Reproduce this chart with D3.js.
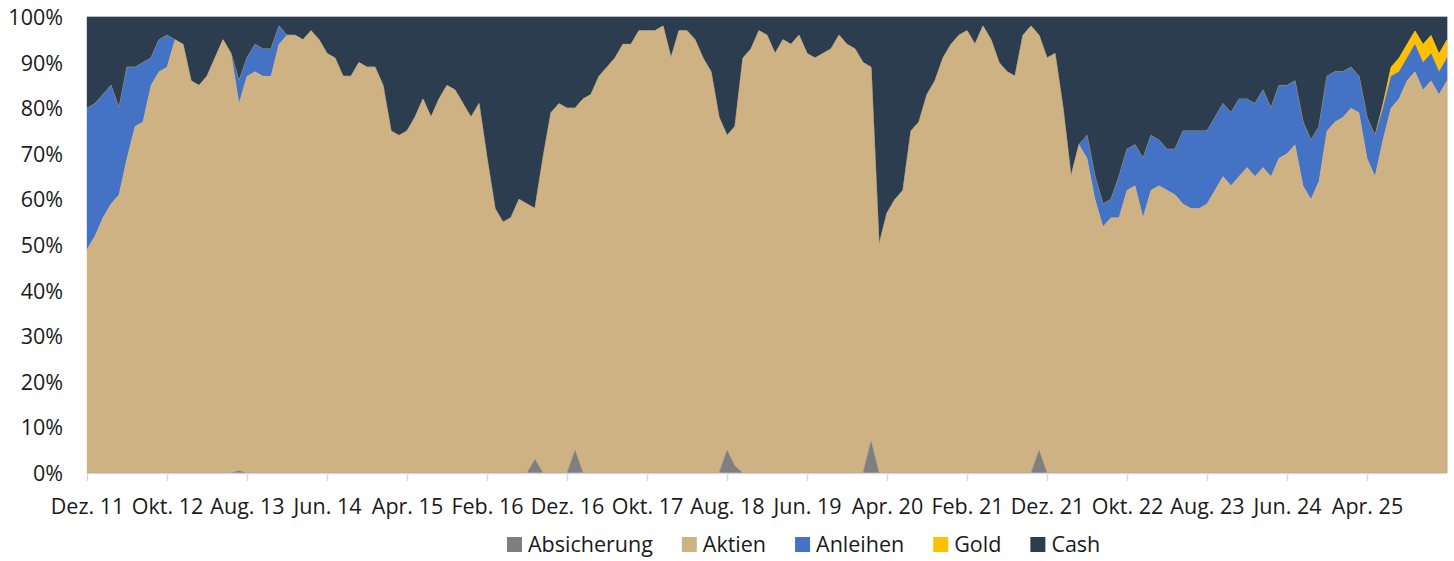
<!DOCTYPE html>
<html>
<head>
<meta charset="utf-8">
<script src="https://cdn.jsdelivr.net/npm/d3@7"></script>
<style>
  html, body { margin: 0; padding: 0; background: #fff; }
  svg { display: block; font-family: "Open Sans", "Noto Sans", sans-serif; }
</style>
</head>
<body>
<svg id="chart" width="1454" height="561"></svg>
<script>
// ---- Data (monthly, Dez. 2011 … Feb. 2026), values in % ----
const startMonth = new Date(2011, 11, 1);
const tickLabels = ["Dez. 11","Okt. 12","Aug. 13","Jun. 14","Apr. 15","Feb. 16","Dez. 16","Okt. 17",
  "Aug. 18","Jun. 19","Apr. 20","Feb. 21","Dez. 21","Okt. 22","Aug. 23","Jun. 24","Apr. 25"];
const seriesNames = ["Absicherung","Aktien","Anleihen","Gold","Cash"];
const seriesColors = ["#7f7f7f","#cfb283","#4472c4","#ffc000","#2d3d50"];

const absicherung = [
  0,0,0,0,0,0,0,0,0,0,
  0,0,0,0,0,0,0,0,0,0.5,
  0,0,0,0,0,0,0,0,0,0,
  0,0,0,0,0,0,0,0,0,0,
  0,0,0,0,0,0,0,0,0,0,
  0,0,0,0,0,0,3,0,0,0,
  0,5,0,0,0,0,0,0,0,0,
  0,0,0,0,0,0,0,0,0,0,
  5,1.5,0,0,0,0,0,0,0,0,
  0,0,0,0,0,0,0,0,7,0,
  0,0,0,0,0,0,0,0,0,0,
  0,0,0,0,0,0,0,0,0,5,
  0,0,0,0,0,0,0,0,0,0,
  0,0,0,0,0,0,0,0,0,0,
  0,0,0,0,0,0,0,0,0,0,
  0,0,0,0,0,0,0,0,0,0,
  0,0,0,0,0,0,0,0,0,0,
  0];
const aktien = [
  49,52,56,59,61,69,76,77,85,88,
  89,95,94,86,85,87,91,95,92,80.5,
  87,88,87,87,94,96,96,95,97,95,
  92,91,87,87,90,89,89,85,75,74,
  75,78,82,78,82,85,84,81,78,81,
  69,58,55,56,60,59,55,69,79,81,
  80,75,82,83,87,89,91,94,94,97,
  97,97,98,91,97,97,95,91,88,78,
  69,74.5,91,93,97,96,92,95,94,96,
  92,91,92,93,96,94,93,90,82,50,
  57,60,62,75,77,83,86,91,94,96,
  97,94,98,95,90,88,87,96,98,91,
  91,92,80,65,72,69,60,54,56,56,
  62,63,56,62,63,62,61,59,58,58,
  59,62,65,63,65,67,65,67,65,69,
  70,72,63,60,64,75,77,78,80,79,
  69,65,73,80,82,86,88,84,86,83,
  86];
const anleihen = [
  31,29,27,26,19,20,13,13,6,7,
  7,0,0,0,0,0,0,0,0,5,
  4,6,6,6,4,0,0,0,0,0,
  0,0,0,0,0,0,0,0,0,0,
  0,0,0,0,0,0,0,0,0,0,
  0,0,0,0,0,0,0,0,0,0,
  0,0,0,0,0,0,0,0,0,0,
  0,0,0,0,0,0,0,0,0,0,
  0,0,0,0,0,0,0,0,0,0,
  0,0,0,0,0,0,0,0,0,0,
  0,0,0,0,0,0,0,0,0,0,
  0,0,0,0,0,0,0,0,0,0,
  0,0,0,0,0,5,5,5,4,9,
  9,9,13,12,10,9,10,16,17,17,
  16,16,16,16,17,15,16,17,15,16,
  15,14,14,13,12,12,11,10,9,8,
  9,9,7,7,6,5,6,6,6,5,
  5];
const gold = [
  0,0,0,0,0,0,0,0,0,0,
  0,0,0,0,0,0,0,0,0,0,
  0,0,0,0,0,0,0,0,0,0,
  0,0,0,0,0,0,0,0,0,0,
  0,0,0,0,0,0,0,0,0,0,
  0,0,0,0,0,0,0,0,0,0,
  0,0,0,0,0,0,0,0,0,0,
  0,0,0,0,0,0,0,0,0,0,
  0,0,0,0,0,0,0,0,0,0,
  0,0,0,0,0,0,0,0,0,0,
  0,0,0,0,0,0,0,0,0,0,
  0,0,0,0,0,0,0,0,0,0,
  0,0,0,0,0,0,0,0,0,0,
  0,0,0,0,0,0,0,0,0,0,
  0,0,0,0,0,0,0,0,0,0,
  0,0,0,0,0,0,0,0,0,0,
  0,0,1,2,3,3,3,4,4,4,
  4];
const cash = [
  20,19,17,15,20,11,11,10,9,5,
  4,5,6,14,15,13,9,5,8,14,
  9,6,7,7,2,4,4,5,3,5,
  8,9,13,13,10,11,11,15,25,26,
  25,22,18,22,18,15,16,19,22,19,
  31,42,45,44,40,41,42,31,21,19,
  20,20,18,17,13,11,9,6,6,3,
  3,3,2,9,3,3,5,9,12,22,
  26,24,9,7,3,4,8,5,6,4,
  8,9,8,7,4,6,7,10,11,50,
  43,40,38,25,23,17,14,9,6,4,
  3,6,2,5,10,12,13,4,2,4,
  9,8,20,35,28,26,35,41,40,35,
  29,28,31,26,27,29,29,25,25,25,
  25,22,19,21,18,18,19,16,20,15,
  15,14,23,27,24,13,12,12,11,13,
  22,26,19,11,9,6,3,6,4,8,
  5];
const yTicks = [0,10,20,30,40,50,60,70,80,90,100];

// ---- Build table ----
const seriesValues = [absicherung, aktien, anleihen, gold, cash];
const months = d3.timeMonth.range(startMonth, d3.timeMonth.offset(startMonth, aktien.length));
const table = months.map((m, i) => {
  const row = { idx: i, date: m };
  seriesNames.forEach((k, j) => row[k] = seriesValues[j][i]);
  return row;
});

// ---- Layout ----
const svg = d3.select("#chart");
const pL = 87, pR = 1447, pT = 17, pB = 473;
const fontSize = 21.5;
const x = d3.scaleLinear().domain([0, aktien.length - 1]).range([pL, pR]);
const y = d3.scaleLinear().domain([0, 100]).range([pB, pT]);

// gridline at 100% and right border
svg.append("line").attr("x1", pL).attr("x2", pR).attr("y1", pT - 0.5).attr("y2", pT - 0.5)
  .attr("stroke", "#d9d9d9").attr("stroke-width", 1);
svg.append("line").attr("x1", pR + 0.5).attr("x2", pR + 0.5).attr("y1", pT - 1).attr("y2", pB)
  .attr("stroke", "#d9d9d9").attr("stroke-width", 1);

const stack = d3.stack().keys(seriesNames).order(d3.stackOrderNone).offset(d3.stackOffsetNone);
const layers = stack(table);
const area = d3.area()
  .x(d => x(d.data.idx))
  .y0(d => y(d[0]))
  .y1(d => y(d[1]))
  .curve(d3.curveLinear);

svg.append("g").selectAll("path")
  .data(layers.slice().reverse())
  .join("path")
  .attr("d", area)
  .attr("fill", d => seriesColors[seriesNames.indexOf(d.key)])
  .attr("stroke", d => seriesColors[seriesNames.indexOf(d.key)])
  .attr("stroke-width", 0.4);

// ---- Axes ----
const xAxis = d3.axisBottom(x)
  .tickValues(tickLabels.map((_, i) => i * 10))
  .tickFormat((d, i) => tickLabels[i])
  .tickSize(8)
  .tickPadding(6);
const gx = svg.append("g").attr("transform", `translate(0,${pB})`).call(xAxis);
gx.select(".domain").attr("stroke", "#d9d9d9").attr("stroke-width", 1.5)
  .attr("d", `M${pL},0.5H${pR}`);
gx.selectAll(".tick line").attr("stroke", "#d9d9d9").attr("stroke-width", 1.5);
gx.selectAll(".tick text").attr("font-size", fontSize).attr("fill", "#1a1a1a")
  .attr("font-family", "'Open Sans', sans-serif").attr("y", 26).attr("dy", "0.71em");

const yAxis = d3.axisLeft(y).tickValues(yTicks).tickFormat(d => d + "%").tickSize(0).tickPadding(0);
const gy = svg.append("g").attr("transform", `translate(63,0)`).call(yAxis);
gy.select(".domain").remove();
gy.selectAll(".tick text").attr("font-size", fontSize).attr("fill", "#1a1a1a")
  .attr("font-family", "'Open Sans', sans-serif").attr("x", 0).attr("dy", "0.35em");

// ---- Legend ----
const legend = svg.append("g").attr("transform", "translate(507,537)");
let lx = 0;
seriesNames.forEach((name, j) => {
  const g = legend.append("g").attr("transform", `translate(${lx},0)`);
  g.append("rect").attr("width", 15).attr("height", 15).attr("fill", seriesColors[j]);
  const t = g.append("text").attr("x", 21).attr("y", 15).attr("font-size", fontSize)
    .attr("fill", "#1a1a1a").text(name);
  lx += 21 + t.node().getComputedTextLength() + 29;
});
</script>
</body>
</html>
